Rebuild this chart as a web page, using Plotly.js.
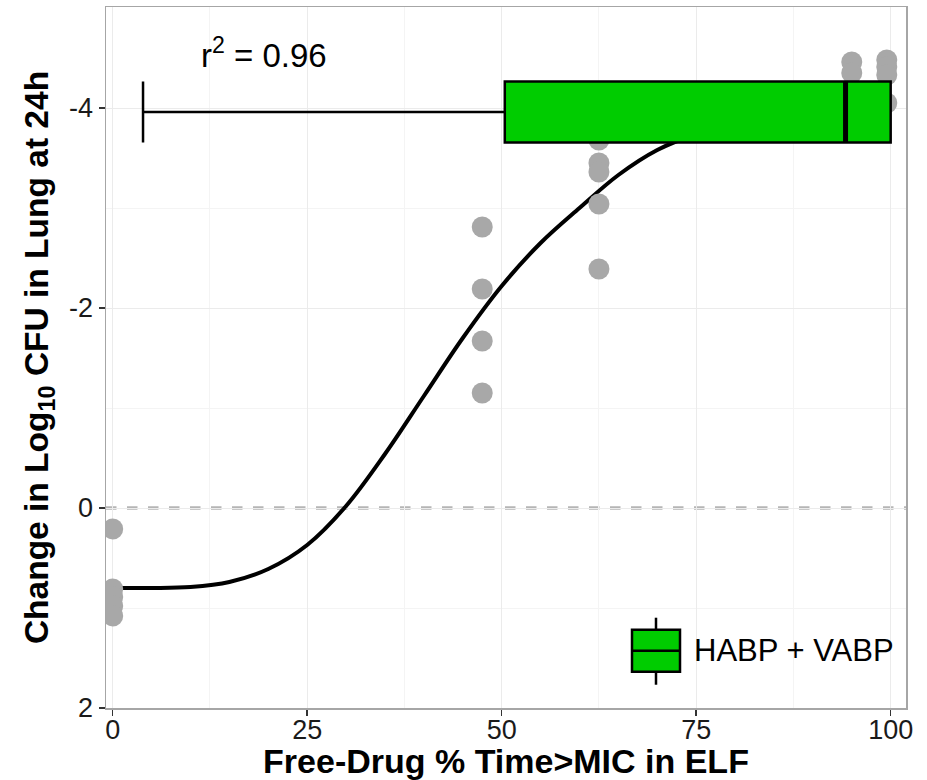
<!DOCTYPE html>
<html>
<head>
<meta charset="utf-8">
<script src="https://cdn.plot.ly/plotly-3.0.1.min.js"></script>
<style>html,body{margin:0;padding:0;background:#fff;}#chart{width:927px;height:780px;}</style>
</head>
<body>
<div id="chart"></div>
<script>
// ---- data ----
const pointX = [0,0,0,0,0, 47.5,47.5,47.5,47.5, 62.5,62.5,62.5,62.5,62.5, 95,95, 99.5,99.5,99.5,99.5];
const pointY = [0.21,0.81,0.89,0.98,1.08, -2.81,-2.19,-1.67,-1.15, -3.68,-3.45,-3.36,-3.04,-2.39, -4.46,-4.35, -4.48,-4.41,-4.33,-4.05];

const curveX = [0,5,10,15,20,25,30,35,40,45,50,55,60,65,70,75,80,85,90,95,100];
const curveY = [0.80,0.80,0.79,0.74,0.61,0.37,-0.02,-0.54,-1.12,-1.70,-2.22,-2.65,-3.00,-3.33,-3.58,-3.74,-3.85,-3.93,-4.00,-4.05,-4.09];

const boxName = 'HABP + VABP';
const boxPos = [-3.96];
const boxLowerFence = [3.9];
const boxQ1 = [50.4];
const boxMedian = [94.2];
const boxQ3 = [100];
const boxUpperFence = [100];

const xTickVals = [0,25,50,75,100];
const xTickText = ['0','25','50','75','100'];
const yTickVals = [-4,-2,0,2];
const yTickText = ['-4','-2','0','2'];
const r2Label = 'r<sup>2</sup> = 0.96';
const refLineY = 0;

// ---- styling ----
const xRange = [-0.86, 101.97];
const yRange = [2, -5.01];
const boxWidth = 0.61;
const green = '#00CC00';
const font = 'Liberation Sans, Arial, Helvetica, sans-serif';

const traces = [
  {type:'scatter', mode:'lines', x:curveX, y:curveY, line:{color:'#000', width:4, shape:'spline', smoothing:1}, showlegend:false, hoverinfo:'skip', xaxis:'x', yaxis:'y'},
  {type:'scatter', mode:'markers', x:pointX, y:pointY, marker:{color:'#A8A8A8', size:21, line:{width:0}}, showlegend:false, xaxis:'x', yaxis:'y'},
  {type:'box', orientation:'h', name:boxName, y:boxPos, q1:boxQ1, median:boxMedian, q3:boxQ3,
   lowerfence:boxLowerFence, upperfence:boxUpperFence, width:boxWidth, whiskerwidth:1,
   fillcolor:green, line:{color:'#000', width:2.5}, showlegend:false, xaxis:'x2', yaxis:'y2'},
  {type:'scatter', mode:'lines', x:[boxMedian[0], boxMedian[0]], y:[boxPos[0]-boxWidth/2, boxPos[0]+boxWidth/2],
   line:{color:'#000', width:5}, showlegend:false, hoverinfo:'skip', xaxis:'x2', yaxis:'y2'}
];

// legend key (drawn in paper coordinates)
const kx0 = 0.6575, kx1 = 0.7175, ky0 = 0.0518, ky1 = 0.1117, kmid = 0.0817, kwx = 0.6875;

const layout = {
  width:927, height:780,
  margin:{l:106, r:21, t:7, b:72},
  paper_bgcolor:'#fff', plot_bgcolor:'#fff',
  font:{family:font, color:'#1a1a1a'},
  showlegend:false,
  xaxis:{range:xRange, tickmode:'array', tickvals:xTickVals, ticktext:xTickText,
    tickfont:{size:27, color:'#1a1a1a'}, ticks:'outside', ticklen:6, tickwidth:1.5, tickcolor:'#333',
    ticklabelstandoff:-9,
    showgrid:true, gridcolor:'#EBEBEB', gridwidth:1,
    minor:{dtick:12.5, showgrid:true, gridcolor:'#F4F4F4', gridwidth:1, ticks:''},
    showline:true, linecolor:'#A6A6A6', linewidth:1.5, mirror:true, zeroline:false,
    title:{text:'<b>Free-Drug % Time>MIC in ELF</b>', font:{size:34, color:'#000'}, standoff:0},
    automargin:false},
  yaxis:{range:yRange, tickmode:'array', tickvals:yTickVals, ticktext:yTickText,
    tickfont:{size:27, color:'#1a1a1a'}, ticks:'outside', ticklen:6, tickwidth:1.5, tickcolor:'#333',
    showgrid:true, gridcolor:'#EBEBEB', gridwidth:1,
    minor:{dtick:1, showgrid:true, gridcolor:'#F4F4F4', gridwidth:1, ticks:''},
    showline:true, linecolor:'#A6A6A6', linewidth:1.5, mirror:true, zeroline:false,
    title:{text:'<b>Change in Log<sub>10</sub> CFU in Lung at 24h</b>', font:{size:33.5, color:'#000'}, standoff:10},
    automargin:false},
  xaxis2:{range:xRange, overlaying:'x', anchor:'y2', visible:false},
  yaxis2:{range:yRange, overlaying:'y', anchor:'x2', visible:false},
  shapes:[
    {type:'line', xref:'paper', x0:0, x1:1, yref:'y', y0:refLineY, y1:refLineY, layer:'below',
     line:{color:'#B5B5B5', width:3.5, dash:'dash'}},
    {type:'line', xref:'paper', yref:'paper', x0:kwx, x1:kwx, y0:0.0332, y1:0.1288, line:{color:'#000', width:2.5}},
    {type:'rect', xref:'paper', yref:'paper', x0:kx0, x1:kx1, y0:ky0, y1:ky1, fillcolor:green, line:{color:'#000', width:2.5}},
    {type:'line', xref:'paper', yref:'paper', x0:kx0, x1:kx1, y0:kmid, y1:kmid, line:{color:'#000', width:2.5}}
  ],
  annotations:[
    {text:r2Label, xref:'x', yref:'y', x:19.45, y:-4.55, showarrow:false, xanchor:'center', yanchor:'middle',
     font:{size:33, color:'#000'}},
    {text:boxName, xref:'paper', yref:'paper', x:0.7325, y:kmid, showarrow:false, xanchor:'left', yanchor:'middle',
     font:{size:31, color:'#000'}}
  ]
};

Plotly.newPlot('chart', traces, layout, {staticPlot:true, displayModeBar:false});
</script>
</body>
</html>
